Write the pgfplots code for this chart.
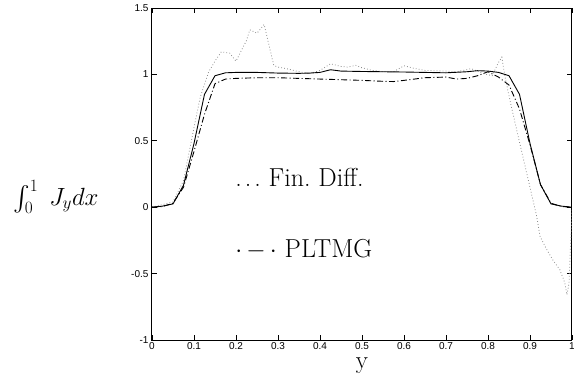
\documentclass[border=0pt]{standalone}
\usepackage{exscale}
\usepackage{pgfplots}
\pgfplotsset{compat=1.18}
\usepackage{fontspec}
\newfontfamily\ticksf{Liberation Sans}
\begin{document}
\begin{tikzpicture}
\begin{axis}[
  scale only axis, width=420pt, height=332pt,
  xmin=0, xmax=1, ymin=-1, ymax=1.5,
  xtick={0,0.1,0.2,0.3,0.4,0.5,0.6,0.7,0.8,0.9,1},
  xticklabels={0,0.1,0.2,0.3,0.4,0.5,0.6,0.7,0.8,0.9,1},
  ytick={-1,-0.5,0,0.5,1,1.5},
  yticklabels={-1,-0.5,0,0.5,1,1.5},
  tick align=inside, major tick length=5pt,
  tick label style={font=\fontsize{10}{12}\ticksf},
  xticklabel style={yshift=1pt},
  axis line style={line width=1pt},
  tick style={line width=0.8pt, black},
  xlabel={\fontsize{25}{30}\selectfont y},
  xlabel style={at={(rel axis cs:0.5,0)}, anchor=base, yshift=-28pt},
]
\coordinate (sw) at (rel axis cs:0,0);
\coordinate (yl) at (rel axis cs:0,0.4);
% Fin. Diff. (dotted grey)
\addplot[black!45, line width=0.8pt, dash pattern=on 0.8pt off 2.2pt] coordinates {
(0,0) (0.025,0.02) (0.05,0.04) (0.075,0.2) (0.1,0.6) (0.115,0.83) (0.135,1.02)
(0.15,1.1) (0.165,1.17) (0.185,1.16) (0.2,1.1) (0.225,1.256) (0.233,1.336)
(0.25,1.31) (0.267,1.376) (0.29,1.067) (0.3,1.055) (0.325,1.04) (0.35,1.02)
(0.375,1.005) (0.4,1.03) (0.425,1.08) (0.45,1.06) (0.465,1.055) (0.485,1.068)
(0.5,1.05) (0.525,1.03) (0.55,1.02) (0.575,1.02) (0.6,1.065) (0.625,1.045)
(0.65,1.03) (0.7,1.025) (0.725,1.02) (0.76,1.043) (0.79,1.005) (0.81,0.99)
(0.825,1.09) (0.833,1.13) (0.84,0.99) (0.854,0.78) (0.875,0.49) (0.9,0.15)
(0.916,-0.07) (0.924,-0.22) (0.94,-0.32) (0.955,-0.4) (0.971,-0.47)
(0.983,-0.57) (0.988,-0.66) (0.993,-0.57) (0.996,-0.32) (0.999,-0.12) (1,0)
};
% PLTMG (dash-dot)
\addplot[black, line width=0.9pt, dash pattern=on 6pt off 2.5pt on 1pt off 2.5pt] coordinates {
(0,0) (0.025,0.005) (0.05,0.03) (0.075,0.15) (0.1,0.42) (0.125,0.7)
(0.15,0.93) (0.175,0.965) (0.2,0.97) (0.25,0.975) (0.3,0.975) (0.35,0.97)
(0.4,0.965) (0.45,0.96) (0.5,0.955) (0.55,0.948) (0.575,0.946) (0.6,0.955)
(0.65,0.975) (0.7,0.98) (0.725,0.965) (0.75,0.97) (0.775,0.99) (0.8,1.02)
(0.825,0.98) (0.85,0.92) (0.875,0.74) (0.9,0.47) (0.925,0.17) (0.95,0.03)
(0.975,0.005) (1,0)
};
% solid
\addplot[black, line width=0.9pt] coordinates {
(0,0) (0.025,0.008) (0.05,0.025) (0.075,0.165) (0.1,0.48) (0.125,0.85)
(0.15,0.99) (0.175,1.012) (0.2,1.015) (0.25,1.015) (0.3,1.01) (0.35,1.008)
(0.375,1.01) (0.4,1.015) (0.425,1.035) (0.45,1.025) (0.5,1.022) (0.55,1.02)
(0.6,1.018) (0.65,1.015) (0.7,1.012) (0.75,1.02) (0.775,1.028) (0.8,1.025)
(0.825,1.015) (0.85,0.99) (0.875,0.85) (0.9,0.48) (0.925,0.17) (0.95,0.025)
(0.975,0.008) (1,0)
};
\coordinate (l1) at (axis cs:0.198,0.158);
\coordinate (l2) at (axis cs:0.198,-0.38);
\end{axis}
\node[anchor=base west, inner sep=0pt, font=\fontsize{26}{30}\selectfont] at (l1) {.\kern3pt.\kern3pt.\ Fin.\ Diff.};
\node[anchor=base west, inner sep=0pt, font=\fontsize{26}{30}\selectfont] at (l2) {$\cdot\,{-}\,\cdot$\ PLTMG};
\node[anchor=base west, inner sep=0pt, font=\fontsize{25}{30}\selectfont] at ([xshift=-139pt,yshift=2pt]yl) {$\int_0^1 \; J_y dx$};
\pgfresetboundingbox
\path (sw) ++(-152pt,-33pt) rectangle ++(574pt,373pt);
\end{tikzpicture}
\end{document}
